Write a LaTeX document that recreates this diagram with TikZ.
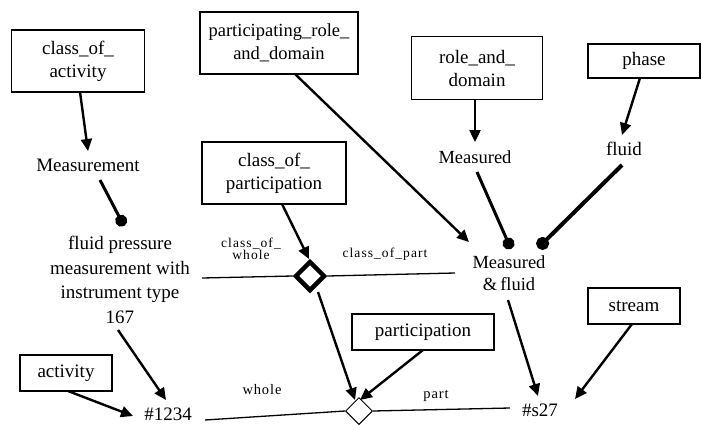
\documentclass[tikz,border=0pt]{standalone}
\usepackage{fontspec}
\setmainfont{Liberation Serif}
\usetikzlibrary{arrows.meta,shapes.geometric}
\begin{document}
\begin{tikzpicture}[x=1pt,y=-1pt,
  box/.style={draw,line width=1.5pt,align=center,inner sep=1pt,font=\fontsize{19}{23}\selectfont},
  txt/.style={align=center,inner sep=1pt,font=\fontsize{19}{24.5}\selectfont},
  lbl/.style={align=center,inner sep=0pt,font=\fontsize{13.5}{12}\selectfont\addfontfeature{LetterSpace=8}},
  arr/.style={line width=2.4pt,-{Triangle[length=12pt,width=11pt]}},
  dotl/.style={line width=3pt,-{Circle[length=12pt]}},
  rel/.style={line width=1.3pt}]
\useasboundingbox (0,0) rectangle (702,424);
% boxes
\node[box,minimum width=133pt,minimum height=62pt] (coa) at (78,61) {class\_of\_\\activity};
\node[box,minimum width=158pt,minimum height=62pt,font=\fontsize{18.5}{23}\selectfont] (prd) at (279,43) {participating\_role\_\\and\_domain};
\node[box,minimum width=131pt,minimum height=63pt] (rad) at (477,68) {role\_and\_\\domain};
\node[box,minimum width=112pt,minimum height=34pt] (phase) at (644,61) {phase};
\node[box,minimum width=144pt,minimum height=62pt] (cop) at (274,173) {class\_of\_\\participation};
\node[box,minimum width=142pt,minimum height=36pt] (part) at (423,332) {participation};
\node[box,minimum width=92pt,minimum height=36pt] (stream) at (634,306) {stream};
\node[box,minimum width=92pt,minimum height=36pt] (act) at (66,373) {activity};
% text nodes
\node[txt] (meas) at (88,165) {Measurement};
\node[txt] (fp) at (120,280) {fluid pressure\\measurement with\\instrument type\\167};
\node[txt,font=\fontsize{18.5}{22}\selectfont] (measd) at (475,157) {Measured};
\node[txt] (fluid) at (624,149) {fluid};
\node[txt,font=\fontsize{18.5}{22}\selectfont] (mf) at (509,273) {Measured\\\&\,fluid};
\node[txt] (n1234) at (168,414) {\#1234};
\node[txt] (s27) at (540,410) {\#s27};
% diamonds
\node[diamond,draw,line width=4.5pt,minimum width=30pt,minimum height=30pt,inner sep=0pt] (dA) at (310,276) {};
\node[diamond,draw,line width=1pt,minimum width=27pt,minimum height=27pt,inner sep=0pt] (dB) at (359,411) {};
% relation lines
\draw[rel] (202,278) coordinate (lw) -- (dA.west);
\draw[rel] (dA.east) -- (455,273) coordinate (rp);
\draw[rel] (205,420) coordinate (lw2) -- (dB.west);
\draw[rel] (dB.east) -- (510,408) coordinate (rp2);
\node[lbl] (lcw) at (251,249) {class\_of\_\\whole};
\node[lbl] (lcp) at (385,254) {class\_of\_part};
\node[lbl,font=\fontsize{14.5}{12}\selectfont\addfontfeature{LetterSpace=6}] (lwh) at (262,390) {whole};
\node[lbl,font=\fontsize{14.5}{12}\selectfont\addfontfeature{LetterSpace=6}] (lpa) at (436,396) {part};
% arrows
\draw[arr] (80,92) -- (88,151);
\draw[dotl] (100,180) -- (124,226);
\draw[arr] (295,74) -- (469,242);
\draw[arr] (475,100) -- (475,142);
\draw[arr] (640,78) -- (622,135);
\draw[dotl] (477,172) -- (511,249);
\draw[line width=4pt,-{Circle[length=13pt]}] (622,165) -- (538,248);
\draw[arr] (282,204) -- (309,259);
\draw[arr] (318,292) -- (355,400);
\draw[arr] (423,350) -- (360,400);
\draw[arr] (508,300) -- (538,396);
\draw[arr] (632,324) -- (575,399);
\draw[arr] (118,330) -- (166,400);
\draw[arr] (68,391) -- (133,416);
\end{tikzpicture}
\end{document}
